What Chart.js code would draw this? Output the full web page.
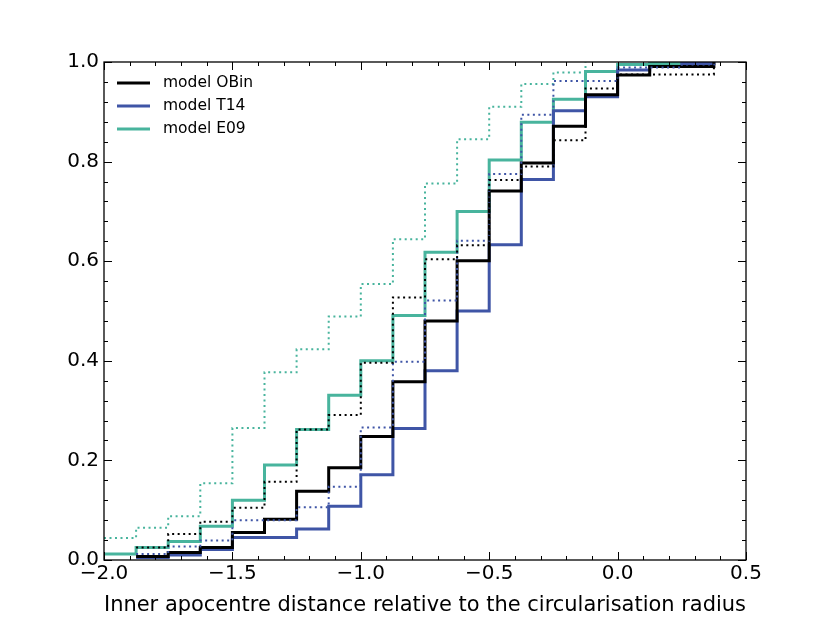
<!DOCTYPE html>
<html>
<head>
<meta charset="utf-8">
<script src="https://cdn.jsdelivr.net/npm/chart.js@4.4.1/dist/chart.umd.min.js"></script>
<style>
  html, body { margin: 0; padding: 0; background: #fff; }
  .chart-box { width: 830px; height: 623px; }
</style>
</head>
<body>
<div class="chart-box"><canvas id="myChart"></canvas></div>
<script>
'use strict';

/* Data: left edge of each bin, cumulative fraction in that bin (null = no step) */
const binEdges = [-2.0, -1.875, -1.75, -1.625, -1.5, -1.375, -1.25, -1.125, -1.0, -0.875,
  -0.75, -0.625, -0.5, -0.375, -0.25, -0.125, 0.0, 0.125, 0.25, 0.375];

const obinSolid = [null, 0.007, 0.015, 0.025, 0.055, 0.082, 0.138, 0.185, 0.248, 0.358,
  0.480, 0.601, 0.741, 0.797, 0.871, 0.934, 0.974, 0.991, 0.991, 1.0];
const obinDotted = [null, 0.025, 0.052, 0.077, 0.105, 0.157, 0.262, 0.291, 0.396, 0.527,
  0.604, 0.632, 0.763, 0.790, 0.843, 0.947, 0.975, 0.975, 0.975, 1.0];
const t14Solid = [null, 0.005, 0.010, 0.021, 0.045, 0.045, 0.062, 0.108, 0.171, 0.264,
  0.380, 0.500, 0.633, 0.764, 0.902, 0.930, 0.984, 0.991, 0.997, 1.0];
const t14Dotted = [null, 0.012, 0.027, 0.039, 0.080, 0.080, 0.106, 0.147, 0.266, 0.398,
  0.521, 0.641, 0.775, 0.894, 0.962, 0.962, 0.989, 0.989, 0.995, 1.0];
const e09Solid = [0.012, 0.025, 0.037, 0.068, 0.120, 0.191, 0.262, 0.331, 0.400, 0.491,
  0.618, 0.700, 0.803, 0.879, 0.925, 0.981, 0.995, 0.997, 1.0, null];
const e09Dotted = [0.044, 0.065, 0.088, 0.154, 0.265, 0.377, 0.423, 0.489, 0.554, 0.644,
  0.756, 0.845, 0.910, 0.956, 0.979, 1.0, null, null, null, null];

const xTicks = [-2.0, -1.5, -1.0, -0.5, 0.0, 0.5];
const yTicks = [0.0, 0.2, 0.4, 0.6, 0.8, 1.0];

const legendNames = ['model OBin', 'model T14', 'model E09'];
const xTitle = 'Inner apocentre distance relative to the circularisation radius';

const colBlack = '#000000';
const colBlue = '#3f55a6';
const colTeal = '#48b49d';
const fontFamily = '"DejaVu Sans", sans-serif';

function toSteps(values) {
  return binEdges
    .map((x, i) => ({ x: x, y: values[i] }))
    .filter(p => p.y !== null);
}

function fmt(v) {
  return v.toFixed(1).replace('-', '\u2212');
}

/* Frame + inward ticks on all four sides (matplotlib classic look) */
const frameTicks = {
  id: 'frameTicks',
  afterDatasetsDraw(chart) {
    const { ctx, chartArea: a, scales } = chart;
    const xs = scales.x, ys = scales.y;
    ctx.save();
    ctx.strokeStyle = '#000';
    ctx.lineWidth = 1;

    // x ticks: major 0.5, minor 0.1
    for (let i = 0; i <= 25; i++) {
      const px = Math.round(xs.getPixelForValue(-2 + i * 0.1)) + 0.5;
      const len = (i % 5 === 0) ? 8 : 4;
      ctx.beginPath();
      ctx.moveTo(px, a.bottom); ctx.lineTo(px, a.bottom - len);
      ctx.moveTo(px, a.top); ctx.lineTo(px, a.top + len);
      ctx.stroke();
    }
    // y ticks: major 0.2, minor 0.04
    for (let i = 0; i <= 25; i++) {
      const py = Math.round(ys.getPixelForValue(i * 0.04)) + 0.5;
      const len = (i % 5 === 0) ? 8 : 4;
      ctx.beginPath();
      ctx.moveTo(a.left, py); ctx.lineTo(a.left + len, py);
      ctx.moveTo(a.right, py); ctx.lineTo(a.right - len, py);
      ctx.stroke();
    }

    ctx.lineWidth = 1.3;
    ctx.strokeRect(a.left, a.top, a.right - a.left, a.bottom - a.top);
    ctx.restore();
  }
};

/* Legend inside the plot, top left, no frame */
const insideLegend = {
  id: 'insideLegend',
  afterDatasetsDraw(chart) {
    const { ctx, chartArea: a } = chart;
    ctx.save();
    ctx.font = Chart.helpers.toFont({ family: fontFamily, size: 15.5 }).string;
    ctx.textBaseline = 'middle';
    ctx.textAlign = 'left';
    ctx.fillStyle = '#000';
    legendNames.forEach((name, i) => {
      const ds = chart.data.datasets[i];
      const y = a.top + 21 + i * 23;
      ctx.strokeStyle = ds.borderColor;
      ctx.lineWidth = 3;
      ctx.beginPath();
      ctx.moveTo(a.left + 13, y);
      ctx.lineTo(a.left + 46, y);
      ctx.stroke();
      ctx.fillText(name, a.left + 59, y);
    });
    ctx.restore();
  }
};

/* Chart */
function initChart() {
  const ctx = document.getElementById('myChart').getContext('2d');

  const solid = (label, data, color) => ({
    label: label,
    data: toSteps(data),
    borderColor: color,
    borderWidth: 3,
    stepped: 'before',
    pointRadius: 0,
    fill: false,
    order: 1,
  });
  const dotted = (data, color) => ({
    label: '',
    data: toSteps(data),
    borderColor: color,
    borderWidth: 2,
    borderDash: [2, 3.5],
    borderCapStyle: 'butt',
    stepped: 'before',
    pointRadius: 0,
    fill: false,
    order: 0,
  });

  new Chart(ctx, {
    type: 'line',
    data: {
      datasets: [
        solid(legendNames[0], obinSolid, colBlack),
        solid(legendNames[1], t14Solid, colBlue),
        solid(legendNames[2], e09Solid, colTeal),
        dotted(obinDotted, colBlack),
        dotted(t14Dotted, colBlue),
        dotted(e09Dotted, colTeal),
      ]
    },
    options: {
      responsive: true,
      maintainAspectRatio: false,
      animation: false,
      layout: { padding: { left: 0, right: 84, top: 62, bottom: 0 } },
      plugins: {
        tooltip: { enabled: false },
        legend: { display: false }
      },
      scales: {
        x: {
          type: 'linear',
          min: xTicks[0],
          max: xTicks[xTicks.length - 1],
          afterFit: s => { s.height = 63; },
          afterBuildTicks: s => { s.ticks = xTicks.map(v => ({ value: v })); },
          grid: { display: false, drawTicks: false },
          border: { display: false },
          ticks: {
            padding: 2,
            color: '#000',
            maxRotation: 0,
            font: { family: fontFamily, size: 20 },
            callback: v => fmt(v),
          },
          title: {
            display: true,
            text: xTitle,
            color: '#000',
            font: { family: fontFamily, size: 22 },
            padding: { top: 0, bottom: 5 },
          }
        },
        y: {
          type: 'linear',
          min: yTicks[0],
          max: yTicks[yTicks.length - 1],
          afterFit: s => { s.width = 104; },
          afterBuildTicks: s => { s.ticks = yTicks.map(v => ({ value: v })); },
          grid: { display: false, drawTicks: false },
          border: { display: false },
          ticks: {
            padding: 5,
            color: '#000',
            font: { family: fontFamily, size: 20 },
            callback: v => fmt(v),
          }
        }
      }
    },
    plugins: [frameTicks, insideLegend],
  });
}

initChart();
</script>
</body>
</html>
